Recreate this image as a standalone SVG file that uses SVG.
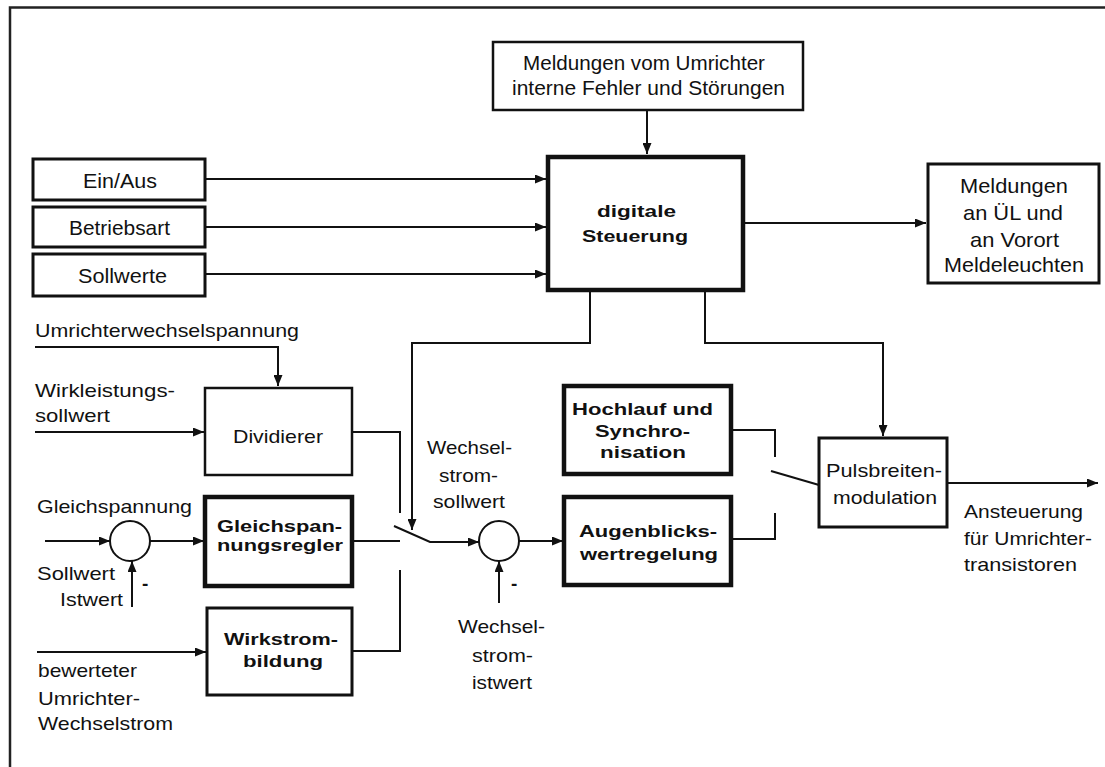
<svg xmlns="http://www.w3.org/2000/svg" width="1105" height="767" viewBox="0 0 1105 767">
<defs>
<marker id="ah" markerUnits="userSpaceOnUse" markerWidth="11" markerHeight="9" refX="11" refY="4.5" orient="auto">
<path d="M0,0 L11,4.5 L0,9 z" fill="#111"/>
</marker>
<style>
.t{font-family:"Liberation Sans",Arial,sans-serif;fill:#111;}
.r{font-size:21px;}
.s{font-size:19px;}
.b{font-size:17px;font-weight:bold;}
.bs{font-size:16px;font-weight:bold;}
.bx{fill:#fff;stroke:#111;stroke-width:3;}
.thk{stroke-width:4.5;}
.thn{stroke-width:2.5;}
.c{fill:none;stroke:#111;stroke-width:2;}
.a{marker-end:url(#ah);}
</style>
</defs>
<rect width="1105" height="767" fill="#fff"/>
<g id="frame">
<path d="M10,767 V7.5 H1105" fill="none" stroke="#222" stroke-width="2.5"/>
</g>

<g id="connectors">
<path class="c a" d="M647,110 V154"/>
<path class="c a" d="M205,179 H546"/>
<path class="c a" d="M206,227 H546"/>
<path class="c a" d="M206,274 H546"/>
<path class="c a" d="M743,223 H926"/>
<path class="c a" d="M590,290 V343 H412 V530"/>
<path class="c a" d="M705,290 V343 H883 V436"/>
<path class="c a" d="M35,347 H278 V386"/>
<path class="c a" d="M35,432 H204"/>
<path class="c" d="M352,432 H400 V513"/>
<path class="c" d="M352,541 H400"/>
<path class="c" d="M352,651 H400 V570"/>
<path class="c a" d="M394,526 L430,542 H479"/>
<path class="c a" d="M519,541 H563"/>
<path class="c a" d="M499,603 V561"/>
<path class="c a" d="M45,541 H110"/>
<path class="c a" d="M150,541 H204"/>
<path class="c a" d="M132,607 V561"/>
<path class="c a" d="M37,652 H206"/>
<path class="c" d="M731,430 H775 V457"/>
<path class="c" d="M731,539 H775 V513"/>
<path class="c" d="M771,471 L819,485"/>
<path class="c a" d="M947,483 H1098"/>
<circle class="c" cx="130" cy="541" r="20"/>
<circle class="c" cx="499" cy="541" r="20"/>
</g>

<g id="meldungen-umrichter">
<rect class="bx thn" x="493" y="42" width="310" height="68"/>
<text class="t r" x="523" y="70" textLength="242" lengthAdjust="spacingAndGlyphs">Meldungen vom Umrichter</text>
<text class="t r" x="512" y="95" textLength="273" lengthAdjust="spacingAndGlyphs">interne Fehler und Störungen</text>
</g>

<g id="ein-aus">
<rect class="bx" x="33" y="159" width="172" height="41"/>
<text class="t r" x="83" y="188" textLength="74" lengthAdjust="spacingAndGlyphs">Ein/Aus</text>
</g>
<g id="betriebsart">
<rect class="bx" x="33" y="207" width="172" height="40"/>
<text class="t r" x="69" y="235" textLength="101" lengthAdjust="spacingAndGlyphs">Betriebsart</text>
</g>
<g id="sollwerte">
<rect class="bx" x="33" y="254" width="172" height="42"/>
<text class="t r" x="78" y="283" textLength="89" lengthAdjust="spacingAndGlyphs">Sollwerte</text>
</g>

<g id="digitale-steuerung">
<rect class="bx thk" x="548" y="157" width="195" height="133"/>
<text class="t b" x="597" y="217" textLength="79" lengthAdjust="spacingAndGlyphs">digitale</text>
<text class="t b" x="582" y="242" textLength="106" lengthAdjust="spacingAndGlyphs">Steuerung</text>
</g>

<g id="meldungen-ul">
<rect class="bx" x="928" y="164" width="171" height="119"/>
<text class="t r" x="960" y="193" textLength="108" lengthAdjust="spacingAndGlyphs">Meldungen</text>
<text class="t r" x="963" y="220" textLength="100" lengthAdjust="spacingAndGlyphs">an ÜL und</text>
<text class="t r" x="970" y="247" textLength="89" lengthAdjust="spacingAndGlyphs">an Vorort</text>
<text class="t r" x="944" y="272" textLength="140" lengthAdjust="spacingAndGlyphs">Meldeleuchten</text>
</g>

<g id="labels-left">
<text class="t s" x="35" y="337" textLength="264" lengthAdjust="spacingAndGlyphs">Umrichterwechselspannung</text>
<text class="t s" x="35" y="397" textLength="140" lengthAdjust="spacingAndGlyphs">Wirkleistungs-</text>
<text class="t s" x="35" y="422" textLength="75" lengthAdjust="spacingAndGlyphs">sollwert</text>
<text class="t s" x="37" y="513" textLength="155" lengthAdjust="spacingAndGlyphs">Gleichspannung</text>
<text class="t s" x="37" y="580" textLength="78" lengthAdjust="spacingAndGlyphs">Sollwert</text>
<text class="t s" x="60" y="606" textLength="63" lengthAdjust="spacingAndGlyphs">Istwert</text>
<text class="t s" x="142" y="590" font-weight="bold">-</text>
<text class="t s" x="38" y="677" textLength="99" lengthAdjust="spacingAndGlyphs">bewerteter</text>
<text class="t s" x="38" y="705" textLength="102" lengthAdjust="spacingAndGlyphs">Umrichter-</text>
<text class="t s" x="38" y="730" textLength="135" lengthAdjust="spacingAndGlyphs">Wechselstrom</text>
</g>

<g id="dividierer">
<rect class="bx thn" x="205" y="388" width="147" height="87"/>
<text class="t s" x="233" y="443" textLength="90" lengthAdjust="spacingAndGlyphs">Dividierer</text>
</g>

<g id="gleichspannungsregler">
<rect class="bx thk" x="205" y="497" width="147" height="89"/>
<text class="t bs" x="217" y="532" textLength="125" lengthAdjust="spacingAndGlyphs">Gleichspan-</text>
<text class="t bs" x="217" y="551" textLength="126" lengthAdjust="spacingAndGlyphs">nungsregler</text>
</g>

<g id="wirkstrombildung">
<rect class="bx" x="207" y="608" width="145" height="87"/>
<text class="t b" x="224" y="645" textLength="114" lengthAdjust="spacingAndGlyphs">Wirkstrom-</text>
<text class="t b" x="243" y="667" textLength="80" lengthAdjust="spacingAndGlyphs">bildung</text>
</g>

<g id="labels-mid">
<text class="t s" x="427" y="454" textLength="85" lengthAdjust="spacingAndGlyphs">Wechsel-</text>
<text class="t s" x="439" y="482" textLength="59" lengthAdjust="spacingAndGlyphs">strom-</text>
<text class="t s" x="433" y="508" textLength="72" lengthAdjust="spacingAndGlyphs">sollwert</text>
<text class="t s" x="511" y="590" font-weight="bold">-</text>
<text class="t s" x="458" y="633" textLength="87" lengthAdjust="spacingAndGlyphs">Wechsel-</text>
<text class="t s" x="472" y="662" textLength="61" lengthAdjust="spacingAndGlyphs">strom-</text>
<text class="t s" x="472" y="689" textLength="60" lengthAdjust="spacingAndGlyphs">istwert</text>
</g>

<g id="hochlauf">
<rect class="bx thk" x="564" y="386" width="167" height="88"/>
<text class="t b" x="572" y="415" textLength="141" lengthAdjust="spacingAndGlyphs">Hochlauf und</text>
<text class="t b" x="595" y="437" textLength="95" lengthAdjust="spacingAndGlyphs">Synchro-</text>
<text class="t b" x="600" y="458" textLength="86" lengthAdjust="spacingAndGlyphs">nisation</text>
</g>

<g id="augenblickswertregelung">
<rect class="bx thk" x="564" y="497" width="167" height="88"/>
<text class="t b" x="579" y="537" textLength="138" lengthAdjust="spacingAndGlyphs">Augenblicks-</text>
<text class="t b" x="580" y="560" textLength="138" lengthAdjust="spacingAndGlyphs">wertregelung</text>
</g>

<g id="pulsbreitenmodulation">
<rect class="bx" x="819" y="438" width="128" height="89"/>
<text class="t s" x="826" y="477" textLength="116" lengthAdjust="spacingAndGlyphs">Pulsbreiten-</text>
<text class="t s" x="833" y="504" textLength="104" lengthAdjust="spacingAndGlyphs">modulation</text>
</g>

<g id="labels-right">
<text class="t s" x="964" y="518" textLength="119" lengthAdjust="spacingAndGlyphs">Ansteuerung</text>
<text class="t s" x="964" y="545" textLength="128" lengthAdjust="spacingAndGlyphs">für Umrichter-</text>
<text class="t s" x="964" y="571" textLength="113" lengthAdjust="spacingAndGlyphs">transistoren</text>
</g>
</svg>
